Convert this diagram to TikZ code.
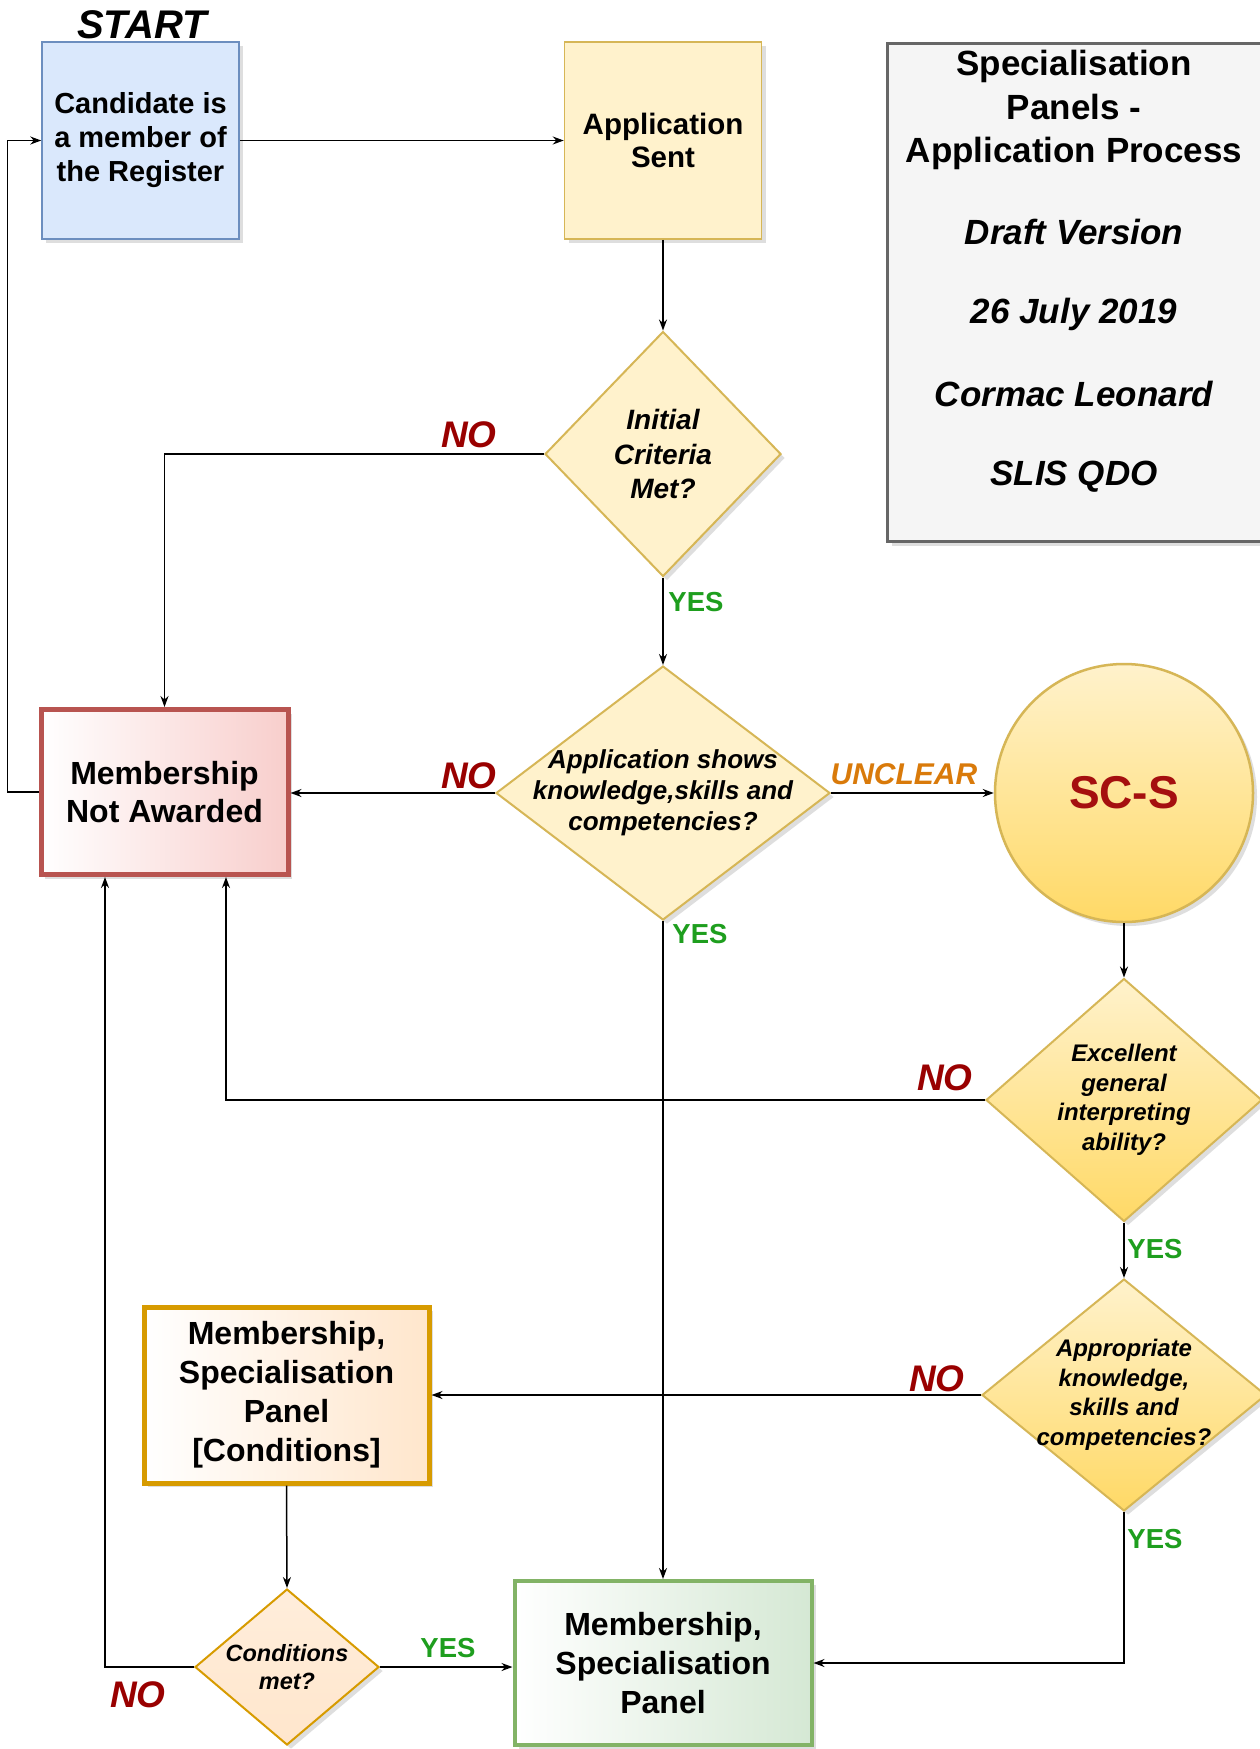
\documentclass[tikz,border=0pt]{standalone}
\usepackage{fontspec}
\setmainfont{Liberation Sans}
\usetikzlibrary{shapes.geometric,arrows.meta,shadows}
\definecolor{blueF}{HTML}{DAE8FC}
\definecolor{blueD}{HTML}{6C8EBF}
\definecolor{yelF}{HTML}{FFF2CC}
\definecolor{yelD}{HTML}{D6B656}
\definecolor{yelS}{HTML}{FFD966}
\definecolor{grayF}{HTML}{F5F5F5}
\definecolor{grayD}{HTML}{666666}
\definecolor{redF}{HTML}{F8CECC}
\definecolor{redD}{HTML}{B85450}
\definecolor{orF}{HTML}{FFE6CC}
\definecolor{orD}{HTML}{D79B00}
\definecolor{grF}{HTML}{D5E8D4}
\definecolor{grD}{HTML}{82B366}
\definecolor{noRed}{HTML}{990000}
\definecolor{yesGreen}{HTML}{1E9E1E}
\definecolor{unclOr}{HTML}{D97A0A}
\definecolor{scsRed}{HTML}{A50F0F}
\newcommand\myfs[2]{\fontsize{#1}{#2}\selectfont}
\tikzset{
  shd/.style={drop shadow={shadow xshift=4pt,shadow yshift=-4pt,opacity=0.18,fill=black!70}},
  box/.style={rectangle, draw, line width=1.5pt, inner sep=0pt, align=center, shd},
  dia/.style={diamond, draw, line width=2pt, inner sep=0pt, shd},
  dtext/.style={align=center, inner sep=0pt},
  conn/.style={->, line width=1.5pt},
  nolab/.style={font=\bfseries\itshape\myfs{37}{40}, text=noRed, inner sep=0pt},
  yeslab/.style={font=\bfseries\myfs{27.5}{30}, text=yesGreen, inner sep=0pt},
  unclab/.style={font=\bfseries\itshape\myfs{30}{34}, text=unclOr, inner sep=0pt},
}
\begin{document}
\begin{tikzpicture}[x=1pt,y=-1pt,>={Stealth[length=11pt,width=8pt]}]
\useasboundingbox (0,0) rectangle (1260,1749);
\fill[white] (0,0) rectangle (1260,1749);

% title box
\node[rectangle, draw=grayD, fill=grayF, line width=3pt, minimum width=400, minimum height=498, anchor=north west, shd] (title) at (886,42) {};
\node[font=\bfseries\myfs{35}{43.5}, align=center] (tt) at (1074,110) {Specialisation\\Panels -\\Application Process};
\node[font=\bfseries\itshape\myfs{35}{40}] (tv) at (1074,232) {Draft Version};
\node[font=\bfseries\itshape\myfs{35}{40}] (td) at (1074,314) {26 July 2019};
\node[font=\bfseries\itshape\myfs{35}{40}] (ta) at (1074,394) {Cormac Leonard};
\node[font=\bfseries\itshape\myfs{35}{40}] (to) at (1074,477) {SLIS QDO};

% start
\node[font=\bfseries\itshape\myfs{40}{44}] (start) at (142,25) {START};
\node[box, draw=blueD, fill=blueF, minimum width=197, minimum height=197, font=\bfseries\myfs{29}{34}] (cand) at (140.5,140.5) {Candidate is\\a member of\\the Register};
\node[box, draw=yelD, fill=yelF, minimum width=197, minimum height=197, font=\bfseries\myfs{29.5}{33}] (app) at (663,140.5) {Application\\Sent};

% decisions
\node[dia, draw=yelD, fill=yelF, minimum width=236, minimum height=245] (init) at (663,454) {};
\node[dtext, font=\bfseries\itshape\myfs{28}{34.5}] (initt) at (init) {Initial\\Criteria\\Met?};

\node[dia, draw=yelD, fill=yelF, minimum width=334, minimum height=254] (appdia) at (663,793) {};
\node[dtext, font=\bfseries\itshape\myfs{26}{31}] (appdiat) at (appdia) {Application shows\\knowledge,skills and\\competencies?};

\node[box, draw=redD, line width=5pt, left color=white, right color=redF, minimum width=247, minimum height=165, font=\bfseries\myfs{32}{38}] (mna) at (164.5,792) {Membership\\Not Awarded};

\node[circle, draw=yelD, line width=2.5pt, top color=yelF, bottom color=yelS, minimum size=258, inner sep=0pt, shd, font=\bfseries\myfs{46}{50}, text=scsRed] (scs) at (1124,793) {SC-S};

\node[dia, draw=yelD, top color=yelF, bottom color=yelS, minimum width=276, minimum height=243] (exc) at (1124,1100) {};
\node[dtext, font=\bfseries\itshape\myfs{24}{29.5}] (exct) at (exc) {Excellent\\general\\interpreting\\ability?};

\node[dia, draw=yelD, top color=yelF, bottom color=yelS, minimum width=284, minimum height=232] (appr) at (1124,1395) {};
\node[dtext, font=\bfseries\itshape\myfs{24}{29.5}] (apprt) at (appr) {Appropriate\\knowledge,\\skills and\\competencies?};

\node[box, draw=orD, line width=5pt, left color=white, right color=orF, minimum width=285, minimum height=176, font=\bfseries\myfs{32}{39}] (cond) at (286.5,1395) {Membership,\\Specialisation\\Panel\\{[Conditions]}};

\node[dia, draw=orD, top color=orF!70, bottom color=orF, minimum width=184, minimum height=156] (cmet) at (287,1667) {};
\node[dtext, font=\bfseries\itshape\myfs{23.5}{28}] (cmett) at (cmet) {Conditions\\met?};

\node[box, draw=grD, line width=4pt, left color=white, right color=grF, minimum width=297, minimum height=164, font=\bfseries\myfs{32}{39}] (green) at (663,1663) {Membership,\\Specialisation\\Panel};

% connectors
\draw[conn] (cand.east) -- (app.west);
\draw[conn] (app.south) -- (init.north);
\draw[conn] (init.west) -| (mna.north);
\draw[conn] (init.south) -- (appdia.north);
\draw[conn] (appdia.west) -- (appdia.west -| mna.east);
\draw[conn] (appdia.east) -- (scs.west);
\draw[conn] (appdia.south) -- (green.north);
\draw[conn] (scs.south) -- (exc.north);
\draw[conn] (exc.west) -| ([xshift=61.5pt]mna.south);
\draw[conn] (exc.south) -- (appr.north);
\draw[conn] (appr.west) -- (appr.west -| cond.east);
\draw[conn] (appr.south) |- (green.east);
\draw[conn] (cond.south) -- (cmet.north);
\draw[conn] (cmet.east) -- (cmet.east -| green.west);
\draw[conn] (cmet.west) -| ([xshift=-59.5pt]mna.south);
\draw[conn] (mna.west) -- ++(-31,0) |- (cand.west);

% labels
\node[nolab] (no1) at (469,435) {NO};
\node[yeslab] (yes1) at (696,602) {YES};
\node[nolab] (no2) at (469,776) {NO};
\node[unclab] (uncl) at (904,774) {UNCLEAR};
\node[yeslab] (yes2) at (700,934) {YES};
\node[nolab] (no3) at (945,1078) {NO};
\node[yeslab] (yes3) at (1155,1249) {YES};
\node[nolab] (no4) at (937,1379) {NO};
\node[yeslab] (yes4) at (1155,1539) {YES};
\node[yeslab] (yes5) at (448,1648) {YES};
\node[nolab] (no5) at (138,1695) {NO};
\end{tikzpicture}
\end{document}
